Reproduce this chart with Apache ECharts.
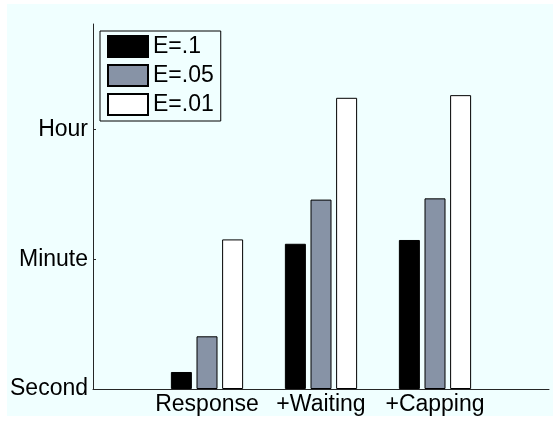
<!DOCTYPE html>
<html>
<head>
<meta charset="utf-8">
<script src="https://cdn.jsdelivr.net/npm/echarts@6/dist/echarts.min.js"></script>
<style>
  html, body { margin: 0; padding: 0; background: #ffffff; }
  #chart { width: 553px; height: 421px; }
</style>
</head>
<body>
<div id="chart"></div>
<script>
// Categories (blank entries pad the axis to the 0..4 range of the original)
const categories = ['', 'Response', '+Waiting', '+Capping', ''];
// Values in seconds (log scale)
const seriesNames = ['E=.1', 'E=.05', 'E=.01'];
const e10 = [null, 1.71, 97.6, 110, null];
const e05 = [null, 5.27, 393, 409, null];
const e01 = [null, 112, 9750, 10600, null];
// Y tick values and labels
const yTickValues = [1, 60, 3600];
const yTickLabels = ['Second', 'Minute', 'Hour'];

const chart = echarts.init(document.getElementById('chart'), null, { renderer: 'canvas' });

const font = 'Liberation Sans, Arial, Helvetica, sans-serif';
const barStyle = (fill) => ({ color: fill, borderColor: '#000', borderWidth: 1 });

chart.setOption({
  backgroundColor: 'transparent',
  animation: false,
  graphic: [{
    type: 'rect', z: -10, silent: true,
    shape: { x: 7, y: 4, width: 546, height: 412 },
    style: { fill: '#f0ffff' }
  }],
  grid: { left: 93, right: 4, top: 24, bottom: 32, containLabel: false },
  legend: {
    orient: 'vertical', left: 100, top: 31,
    padding: [4, 7, 5, 7],
    icon: 'rect',
    itemWidth: 40, itemHeight: 21, itemGap: 6,
    backgroundColor: '#f0ffff',
    borderColor: '#000', borderWidth: 1,
    textStyle: { fontFamily: font, fontSize: 23, color: '#000' },
    data: seriesNames
  },
  xAxis: {
    type: 'category', data: categories, boundaryGap: false,
    axisLine: { lineStyle: { color: '#262626', width: 1 } },
    axisTick: { show: false },
    axisLabel: { interval: 0, margin: 4, fontFamily: font, fontSize: 23, color: '#000' },
    splitLine: { show: false }
  },
  yAxis: {
    type: 'log', logBase: 10, min: 1, max: 100000,
    axisLine: { show: true, lineStyle: { color: '#262626', width: 1 } },
    axisTick: { show: true, inside: true, length: 3, customValues: yTickValues, lineStyle: { color: '#262626' } },
    axisLabel: {
      customValues: yTickValues, margin: 5, fontFamily: font, fontSize: 23, color: '#000',
      formatter: (v) => { const i = yTickValues.findIndex(t => Math.abs(t - v) / t < 1e-6); return i >= 0 ? yTickLabels[i] : ''; }
    },
    splitLine: { show: false }, minorTick: { show: false }
  },
  series: [
    { name: seriesNames[0], type: 'bar', data: e10, barWidth: 21, barGap: '22%', itemStyle: barStyle('#000000') },
    { name: seriesNames[1], type: 'bar', data: e05, barWidth: 21, barGap: '22%', itemStyle: barStyle('#8793a6') },
    { name: seriesNames[2], type: 'bar', data: e01, barWidth: 21, barGap: '22%', itemStyle: barStyle('#ffffff') }
  ]
});
</script>
</body>
</html>
